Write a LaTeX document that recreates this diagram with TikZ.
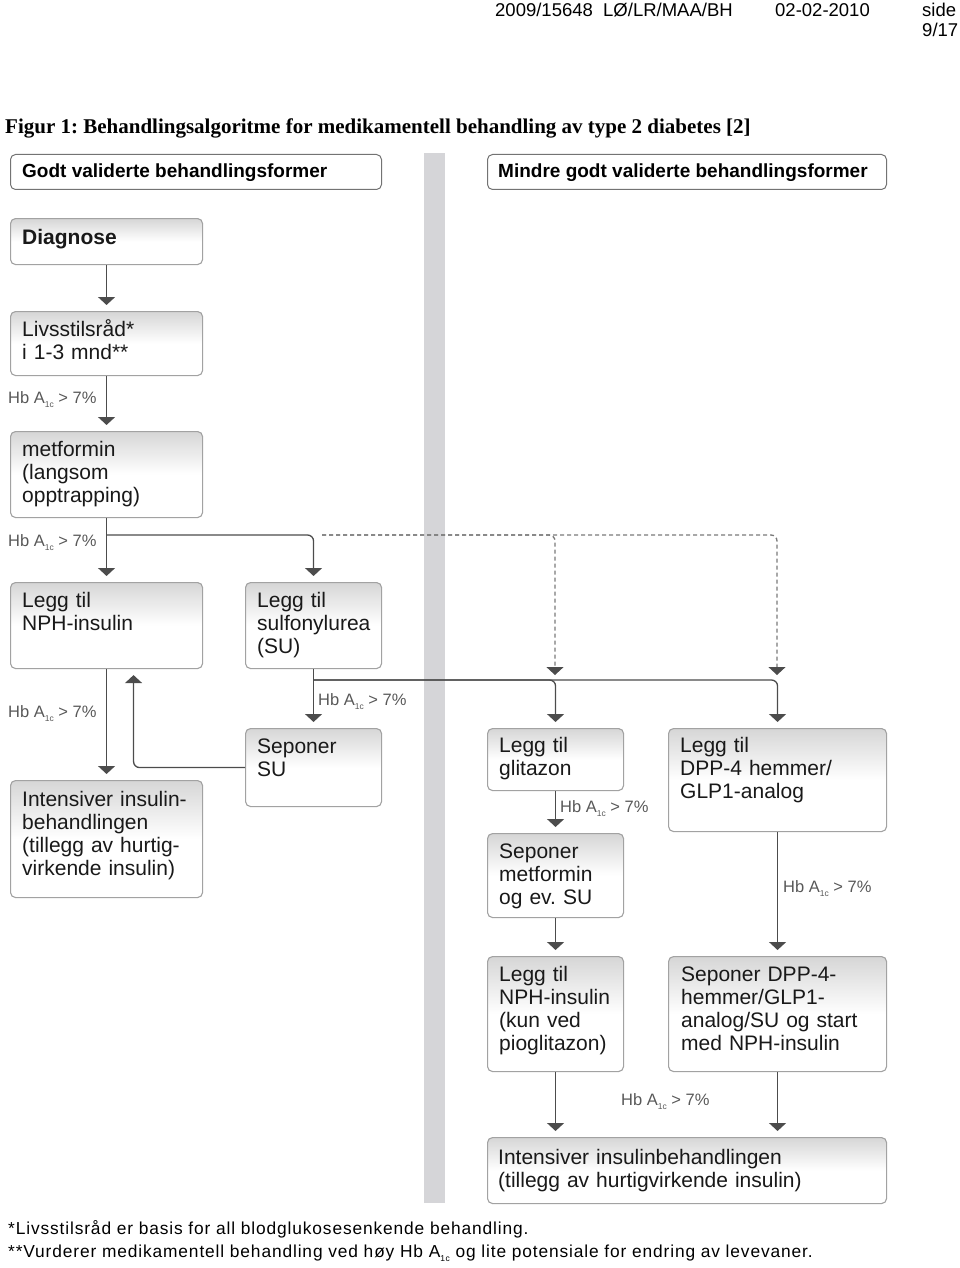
\documentclass[tikz,border=0pt]{standalone}
\usepackage{fontspec}
\setmainfont{Liberation Sans}
\newfontfamily\titlefont{Liberation Serif}
\newfontfamily\footfont[LetterSpace=5]{Liberation Sans}
\usetikzlibrary{arrows.meta,positioning,calc}
\frenchspacing

\definecolor{boxline}{HTML}{A2A2A2}
\definecolor{boxshade}{HTML}{D6D6D6}
\definecolor{connline}{HTML}{4C4C4C}
\definecolor{labelgray}{HTML}{585858}
\definecolor{barfill}{HTML}{D5D5D8}

\newcommand{\hbsub}{\raisebox{-4pt}{\fontsize{8.5}{9}\selectfont 1c}}
\newcommand{\hba}{Hb A\hbsub{} > 7\%}

\begin{document}
\begin{tikzpicture}[x=1pt, y=-1pt,
  flowbox/.style={draw=boxline, line width=1.1pt, rounded corners=5pt, anchor=north west, inner sep=0pt,
                  top color=boxshade, bottom color=white, middle color=white},
  headbox/.style={draw=black!55, line width=1pt, rounded corners=5pt, anchor=north west, inner sep=0pt, fill=white},
  boxtext/.style={anchor=base west, align=left, text width=380pt, inner sep=0pt, text=black!90,
                  font=\fontsize{21}{23}\selectfont},
  hblabel/.style={anchor=base west, inner sep=0pt, text=labelgray, font=\fontsize{16.5}{18}\selectfont},
  conn/.style={draw=connline, line width=1.3pt, rounded corners=6pt, shorten >=6pt,
               -{Triangle[width=17pt,length=8pt,color=connline]}},
  dashconn/.style={conn, draw=connline!75, dash pattern=on 4pt off 3pt, shorten >=0pt}]

  \useasboundingbox (0,0) rectangle (960,1268);

  %page header
  \node[anchor=base west, inner sep=0pt, font=\fontsize{18.5}{21}\selectfont] (ref) at (495,17) {2009/15648\ \ LØ/LR/MAA/BH};
  \node[anchor=base west, inner sep=0pt, font=\fontsize{18.5}{21}\selectfont] (date) at (775,17) {02-02-2010};
  \node[anchor=base west, inner sep=0pt, font=\fontsize{18.5}{21}\selectfont] (side) at (922,17) {side};
  \node[anchor=base west, inner sep=0pt, font=\fontsize{18.5}{21}\selectfont] (page) at (922,37) {9/17};
  \node[anchor=base west, inner sep=0pt, font=\titlefont\bfseries\fontsize{21}{24}\selectfont] (title) at (5,134)
     {Figur 1: Behandlingsalgoritme for medikamentell behandling av type 2 diabetes [2]};

  %divider
  \fill[barfill] (424,153) rectangle (445,1203);

  %column heads
  \node[headbox, minimum width=371, minimum height=35] (headL) at (10,154) {};
  \node[headbox, minimum width=399, minimum height=35] (headR) at (487,154) {};
  \node[anchor=base west, inner sep=0pt, font=\bfseries\fontsize{19}{21}\selectfont] (headL-t) at ([xshift=12pt,yshift=-24pt]headL.north west) {Godt validerte behandlingsformer};
  \node[anchor=base west, inner sep=0pt, font=\bfseries\fontsize{19}{21}\selectfont] (headR-t) at ([xshift=11pt,yshift=-24pt]headR.north west) {Mindre godt validerte behandlingsformer};

  %boxes
  \foreach \name/\x/\y/\w/\h in {diagnose/10/218/192/46, livsstil/10/311/192/64, metformin/10/431/192/86,
        nphA/10/582/192/86, sulfo/245/582/136/86, seponersu/245/728/136/78, intensivA/10/780/192/117,
        glitazon/487/728/136/62, dpp/668/728/218/103, seponermet/487/833/136/84,
        nphB/487/956/136/115, seponerdpp/668/956/218/115, intensivB/487/1137/399/66}{
    \node[flowbox, minimum width=\w, minimum height=\h] (\name) at (\x,\y) {};
  }

  %box texts
  \node[boxtext] (diagnose-t) at ([xshift=12pt,yshift=-26pt]diagnose.north west) {\bfseries Diagnose};
  \node[boxtext] (livsstil-t) at ([xshift=12pt,yshift=-25pt]livsstil.north west) {Livsstilsråd*\\i 1-3 mnd**};
  \node[boxtext] (metformin-t) at ([xshift=12pt,yshift=-25pt]metformin.north west) {metformin\\(langsom\\opptrapping)};
  \node[boxtext] (nphA-t) at ([xshift=12pt,yshift=-25pt]nphA.north west) {Legg til\\NPH-insulin};
  \node[boxtext] (sulfo-t) at ([xshift=12pt,yshift=-25pt]sulfo.north west) {Legg til\\sulfonylurea\\(SU)};
  \node[boxtext] (seponersu-t) at ([xshift=12pt,yshift=-25pt]seponersu.north west) {Seponer\\SU};
  \node[boxtext] (intensivA-t) at ([xshift=12pt,yshift=-26pt]intensivA.north west) {Intensiver insulin-\\behandlingen\\(tillegg av hurtig-\\virkende insulin)};
  \node[boxtext] (glitazon-t) at ([xshift=12pt,yshift=-24pt]glitazon.north west) {Legg til\\glitazon};
  \node[boxtext] (dpp-t) at ([xshift=12pt,yshift=-24pt]dpp.north west) {Legg til\\DPP-4 hemmer/\\GLP1-analog};
  \node[boxtext] (seponermet-t) at ([xshift=12pt,yshift=-25pt]seponermet.north west) {Seponer\\metformin\\og ev. SU};
  \node[boxtext] (nphB-t) at ([xshift=12pt,yshift=-25pt]nphB.north west) {Legg til\\NPH-insulin\\(kun ved\\pioglitazon)};
  \node[boxtext] (seponerdpp-t) at ([xshift=13pt,yshift=-25pt]seponerdpp.north west) {Seponer DPP-4-\\hemmer/GLP1-\\analog/SU og start\\med NPH-insulin};
  \node[boxtext] (intensivB-t) at ([xshift=11pt,yshift=-27pt]intensivB.north west) {Intensiver insulinbehandlingen\\(tillegg av hurtigvirkende insulin)};

  %branch points
  \coordinate (splitMet) at (106,535);
  \coordinate (dashStart) at (322,535);
  \coordinate (dashL) at (555,675);
  \coordinate (dashR) at (777,675);
  \coordinate (splitSU) at (313,680);

  %arrows, left column
  \draw[conn] (diagnose.south) -- (livsstil.north);
  \draw[conn] (livsstil.south) -- (metformin.north);
  \draw[conn] (metformin.south) -- (nphA.north);
  \draw[conn] (splitMet) -| (sulfo.north);
  \draw[conn] (nphA.south) -- (intensivA.north);
  \draw[conn] (sulfo.south) -- (seponersu.north);
  \draw[conn] (seponersu.west) -| ([xshift=27pt]nphA.south);

  %arrows, right column
  \draw[dashconn] (dashStart) -| (dashR);
  \draw[dashconn] (dashStart) -| (dashL);
  \draw[conn] (splitSU) -| (dpp.north);
  \draw[conn] (splitSU) -| (glitazon.north);
  \draw[conn] (glitazon.south) -- (seponermet.north);
  \draw[conn] (seponermet.south) -- (nphB.north);
  \draw[conn] (dpp.south) -- (seponerdpp.north);
  \draw[conn] (nphB.south) -- (nphB.south |- intensivB.north);
  \draw[conn] (seponerdpp.south) -- (seponerdpp.south |- intensivB.north);

  %HbA1c labels
  \foreach \x/\y/\name in {8/403/hbLivs, 8/546/hbMet, 318/705/hbSU, 8/717/hbNph, 560/812/hbGli, 783/892/hbDpp, 621/1105/hbEnd}{
    \node[hblabel] (\name) at (\x,\y) {\hba};
  }

  %footnotes
  \node[anchor=base west, inner sep=0pt, font=\footfont\fontsize{17.35}{22}\selectfont] (note1) at (8,1234)
     {*Livsstilsråd er basis for all blodglukosesenkende behandling.};
  \node[anchor=base west, inner sep=0pt, font=\footfont\fontsize{17.35}{22}\selectfont] (note2) at (8,1257)
     {**Vurderer medikamentell behandling ved høy Hb A\hbsub{} og lite potensiale for endring av levevaner.};

\end{tikzpicture}
\end{document}
